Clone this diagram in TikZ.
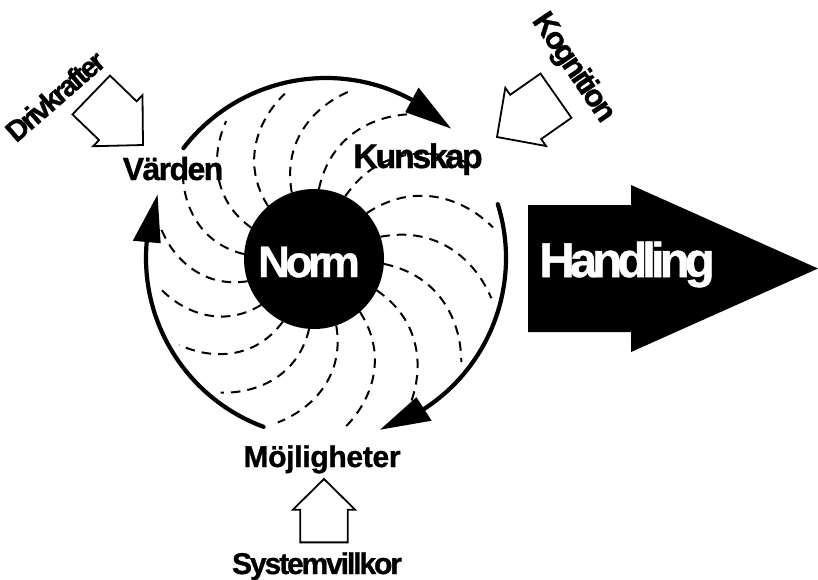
\documentclass[tikz,border=0pt]{standalone}
\usepackage{fontspec}
\setmainfont{Liberation Sans}
% bold label: size (pt), tracking, text
\newcommand\dlabel[3]{\fontsize{#1}{#1}\selectfont\bfseries\addfontfeatures{LetterSpace=#2,FakeBold=1}#3}

\begin{document}
\begin{tikzpicture}[x=1pt,y=1pt,
  ringline/.style={line width=4.2pt, line cap=round},
  arrowhead/.style={fill=black},
  spoke/.style={line width=2pt, dash pattern=on 9.5pt off 7pt},
  outline/.style={draw=black, fill=white, line width=1.8pt, line join=miter},
  lbl/.style={inner sep=0pt, text=black},
  blockarrow/.pic={
    \draw[outline] (0,0) -- (-35,35.5) -- (-35,27) -- (-72,27) -- (-72,-27)
      -- (-35,-27) -- (-35,-35.5) -- cycle;
  }]
\useasboundingbox (0,0) rectangle (818,-579);

% centres of the hub and of the outer cycle
\coordinate (hub) at (314,-259);
\coordinate (ringc) at (326,-258);

% dashed pinwheel arms around the hub
\begin{scope}[shift={(hub)}]
  \foreach \k in {0,...,15}{
    \pgfmathsetmacro\a{22.5*\k-4}
    \draw[spoke] plot[smooth, variable=\t, domain=0:1, samples=30]
      ({\a-31*(0.4*\t+0.6*\t*\t)}:{70+(100+12*cos(\a-31))*\t});
  }
\end{scope}

% hub
\node[circle, fill=black, minimum size=140pt, inner sep=0pt] (norm) at (hub) {};
\node[lbl, text=white, anchor=base] (normtxt) at (309,-277) {\dlabel{44}{-10}{Norm}};

% outer cycle: three arcs with arrowheads
\coordinate (a1s) at ([shift={(142.4:180)}]ringc);
\coordinate (a1e) at ([shift={(61.5:180)}]ringc);
\coordinate (a2s) at ([shift={(17.4:180)}]ringc);
\coordinate (a2e) at ([shift={(-57:180)}]ringc);
\coordinate (a3s) at ([shift={(-110.3:180)}]ringc);
\coordinate (a3e) at ([shift={(-185.1:180)}]ringc);

\draw[ringline] (a1s) arc[start angle=142.4, end angle=61.5, radius=180];
\fill[arrowhead] ([shift={(46:180)}]ringc) -- ([shift={(61.5:166)}]ringc)
  -- ([shift={(61.5:194)}]ringc) -- cycle;

\draw[ringline] (a2s) arc[start angle=17.4, end angle=-57, radius=180];
\fill[arrowhead] ([shift={(-72.5:180)}]ringc) -- ([shift={(-57:166)}]ringc)
  -- ([shift={(-57:194)}]ringc) -- cycle;

\draw[ringline] (a3s) arc[start angle=-110.3, end angle=-185.1, radius=180];
\fill[arrowhead] ([shift={(-200.6:180)}]ringc) -- ([shift={(-185.1:166)}]ringc)
  -- ([shift={(-185.1:194)}]ringc) -- cycle;

% cycle labels
\node[lbl, anchor=base] (varden) at (173,-180) {\dlabel{32}{-5}{Värden}};
\node[lbl, anchor=base] (kunskap) at (418,-168) {\dlabel{34}{-7}{Kunskap}};
\node[lbl, anchor=base] (mojl) at (322,-467) {\dlabel{30}{-1}{Möjligheter}};

% input arrows
\pic[rotate=-44] at (143,-145) {blockarrow};
\pic[rotate=215] at (497,-137) {blockarrow};
\pic[rotate=90, scale=0.88] at (324,-479) {blockarrow};

\node[lbl, rotate=41] (driv) at (55,-96) {\dlabel{29}{-9}{Drivkrafter}};
\node[lbl, rotate=-56] (kogn) at (573,-68) {\dlabel{31}{-8}{Kognition}};
\node[lbl, anchor=base] (sysv) at (317,-574) {\dlabel{30}{-7}{Systemvillkor}};

% output arrow
\fill (528,-205) -- (631,-205) -- (631,-185) -- (818,-268.5) -- (631,-352)
  -- (631,-332) -- (528,-332) -- cycle;
\node[lbl, text=white, anchor=base] (handling) at (627,-277) {\dlabel{49}{-10}{Handling}};
\end{tikzpicture}
\end{document}
